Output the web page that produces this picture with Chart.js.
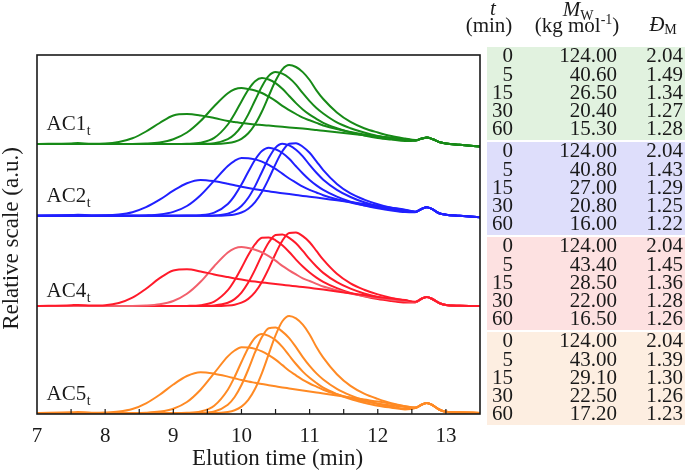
<!DOCTYPE html>
<html><head><meta charset="utf-8">
<script src="https://cdn.jsdelivr.net/npm/chart.js@4.4.0/dist/chart.umd.min.js"></script>
<style>
html,body{margin:0;padding:0;background:#fff;}
#wrap{position:relative;width:685px;height:474px;overflow:hidden;font-family:"Liberation Serif","Times New Roman",Tinos,"DejaVu Serif",serif;color:#1a1a1a;}
#chart{position:absolute;left:0;top:0;}
.blk{position:absolute;left:487px;width:198px;height:93px;}
.tx{position:absolute;white-space:nowrap;}
.sub{font-size:14px;position:relative;}
</style></head><body>
<div id="wrap"><canvas id="chart" width="685" height="474"></canvas><div id="tbl"></div></div>
<script>
// ---------- data ----------
const elutionTime = [7.0,7.5,7.6,7.8,8.0,8.2,8.4,8.6,8.8,9.0,9.2,9.4,9.6,9.8,9.9,10.0,10.1,10.2,10.3,10.4,10.5,10.6,10.7,10.8,10.9,11.0,11.1,11.2,11.4,11.6,11.8,12.0,12.2,12.4,12.55,12.65,12.72,12.8,12.9,13.0,13.2,13.5];
const sampleNames = ['AC1','AC2','AC4','AC5'];
const timeMin = [0,5,15,30,60];

// AC1 traces (relative signal, a.u.)
const ac1_t0  = [0,0.6,0.9,0.3,0.5,2,5.7,12.5,21,28.5,29.9,28.5,26,23,22,21,20.2,19.5,19,18.4,17.8,17.2,16.6,16,15.4,14.8,14,13.3,11.8,10.3,8.8,7.4,6,4.8,3.5,5.5,6.5,5,2,0.5,-0.8,-2.5];
const ac1_t5  = [0,0,0,0,0,0,0,0.4,1.6,4.8,11.5,23,37.7,50.7,54.7,56,55,53.5,51,47.3,43.1,38.1,33.9,30,26.3,23.7,21.1,18.5,15,11.9,9.5,7.7,6,4.8,3.5,5.5,6.5,5,2,0.5,-0.8,-2.5];
const ac1_t15 = [0,0,0,0,0,0,0,0,0,0,0.2,1.3,6.1,19.5,30.2,42.6,54.3,62.8,66,64.5,60.9,55.2,48,40.9,34.6,29.4,25.1,21.1,15.8,11.6,8.6,6.1,4.4,3,3.5,5.5,6.5,5,2,0.5,-0.8,-2.5];
const ac1_t30 = [0,0,0,0,0,0,0,0,0,0,0,0.1,0.8,4.8,9.7,17.9,29.6,43.7,57.6,68.1,72,70.3,66,59.4,50.8,42.9,36,30.5,21.6,15.8,11.5,8.1,5.9,3.9,3.5,5.5,6.5,5,2,0.5,-0.8,-2.5];
const ac1_t60 = [0,0,0,0,0,0,0,0,0,0,0,0,0,0.9,2.3,5.2,10.7,19.7,32.5,48,63.2,74.7,79,77,71.9,64,53.7,45,31.6,22.1,15.8,11.5,7.9,5.5,4,5.5,6.5,5,2,0.5,-0.8,-2.5];
// AC2 traces
const ac2_t0  = [0,0.6,0.9,0.3,0.4,1.2,3.5,8.5,16,25,32.5,35.8,34.5,32,30.5,29,27.7,26.5,25.4,24.4,23.4,22.5,21.6,20.7,19.8,19,18.1,17.2,15.4,13.6,11.8,10,8,6,4.2,7,8.5,6.5,2.5,1,0,-1.5];
const ac2_t5  = [0,0,0,0,0,0,0,0.3,1.2,3.8,9.7,20.5,35.1,49.7,54.9,57.7,57.5,56.3,54.1,50.9,46.9,42.1,37.2,33.1,29.1,25.9,23.2,20.5,16.4,13.2,10.4,8.4,6.7,5.2,3.8,7,8.5,6.5,2.5,1,0,-1.5];
const ac2_t15 = [0,0,0,0,0,0,0,0,0,0,0.1,0.5,3,11.7,20.1,31.1,43.9,56,64.7,68,66.4,62.7,56.9,49.4,42.2,35.7,30.3,25.8,19,13.9,10.2,7.5,5.3,3.7,3.5,7,8.5,6.5,2.5,1,0,-1.5];
const ac2_t30 = [0,0,0,0,0,0,0,0,0,0,0,0,0.3,2.1,4.8,9.7,17.9,29.6,43.7,57.6,68.1,72,70.3,66,59.4,50.8,42.9,36,25.9,18.7,13.4,9.7,6.8,4.9,3.6,7,8.5,6.5,2.5,1,0,-1.5];
const ac2_t60 = [0,0,0,0,0,0,0,0,0,0,0,0,0,0.5,1.3,3.2,7,13.6,23.7,36.9,51.6,64.4,72,72.5,69,62.9,54.4,45.6,31.8,22.3,16.1,11.5,8,5.6,3.8,7,8.5,6.5,2.5,1,0,-1.5];
// AC4 traces
const ac4_t0  = [0,0.7,1.1,0.4,0.8,3,8.3,17.3,27.8,35.5,36.8,34.6,31.6,28.9,27.6,26.4,25.3,24.4,23.6,22.8,22,21.2,20.5,19.7,19,18.2,17.3,16.4,14.5,12.7,10.9,9.1,7.4,5.9,4.2,7.5,9,7,3,1,0.3,0];
const ac4_t5  = [0,0,0,0,0,0,0,0.4,1.7,5,12.2,24.2,39.8,53.5,57.6,59,58,56.3,53.7,49.9,45.4,40.1,35.7,31.6,27.7,25,22.2,19.5,15.8,12.5,10,8.1,6.3,5,3.8,7.5,9,7,3,1,0.3,0];
const ac4_t15 = [0,0,0,0,0,0,0,0,0,0,0.1,0.8,4.4,15.8,25.7,38,50.9,61.8,68.2,68.6,65.7,60.7,54,46.4,39.5,33.5,28.4,24.2,17.9,13.1,9.7,6.9,5,3.5,3.8,7.5,9,7,3,1,0.3,0];
const ac4_t30 = [0,0,0,0,0,0,0,0,0,0,0,0,0.5,3.2,6.9,13.4,23.4,36.4,50.9,63.5,71,71.5,68.2,62.7,55.1,46.8,39.5,33.1,23.8,17.3,12.5,8.9,6.3,4.4,3.8,7.5,9,7,3,1,0.3,0];
const ac4_t60 = [0,0,0,0,0,0,0,0,0,0,0,0,0,0.5,1.3,3.3,7.1,13.8,24,37.4,52.3,65.3,73,73.5,69.9,63.8,55.1,46.3,32.2,22.6,16.3,11.6,8.1,5.7,4,7.5,9,7,3,1,0.3,0];
// AC5 traces
const ac5_t0  = [0,0.7,1,0.3,0.5,1.4,4,9.7,18.2,28.5,37,40.8,39.3,36.4,34.7,33,31.5,30.2,28.9,27.8,26.7,25.6,24.6,23.6,22.6,21.6,20.6,19.6,17.5,15.5,13.4,11.4,9.1,6.8,5.5,8.5,10,8,3.5,1.2,0.5,0];
const ac5_t5  = [0,0,0,0,0,0,0,0.3,1.4,4.3,11,23.3,39.9,56.6,62.5,65.7,65.4,64.1,61.6,57.9,53.4,47.9,42.3,37.7,33.1,29.5,26.4,23.3,18.7,15,11.8,9.6,7.6,5.9,5.2,8.5,10,8,3.5,1.2,0.5,0];
const ac5_t15 = [0,0,0,0,0,0,0,0,0,0,0.2,1.5,7.3,23.3,36.1,51,65,75.2,79,77.2,72.9,66.1,57.5,49,41.4,35.2,30,25.3,18.9,13.9,10.3,7.3,5.3,3.6,5,8.5,10,8,3.5,1.2,0.5,0];
const ac5_t30 = [0,0,0,0,0,0,0,0,0,0,0,0.2,1.5,8.3,16,28,43.5,60.8,75.9,84.8,85.4,81.4,74.9,65.8,55.9,47.1,39.6,33.5,24.1,17.6,12.7,8.9,6.4,4.3,5,8.5,10,8,3.5,1.2,0.5,0];
const ac5_t60 = [0,0,0,0,0,0,0,0,0,0,0,0,0,1.1,2.8,6.4,13.1,24.2,39.9,58.9,77.6,91.7,97,94.6,88.3,78.6,66,55.3,38.8,27.1,19.4,14.1,9.7,6.8,5.5,8.5,10,8,3.5,1.2,0.5,0];

// vertical stacking offset of each sample's traces (a.u.)
const traceOffset = [270, 198.3, 108, 1];

// table values
const mwAC1 = [124.00,40.60,26.50,20.40,15.30];  const dispAC1 = [2.04,1.49,1.34,1.27,1.28];
const mwAC2 = [124.00,40.80,27.00,20.80,16.00];  const dispAC2 = [2.04,1.43,1.29,1.25,1.22];
const mwAC4 = [124.00,43.40,28.50,22.00,16.50];  const dispAC4 = [2.04,1.45,1.36,1.28,1.26];
const mwAC5 = [124.00,43.00,29.10,22.50,17.20];  const dispAC5 = [2.04,1.39,1.30,1.26,1.23];

// ---------- styles ----------
const FONT = '"Liberation Serif", "Times New Roman", Tinos, "DejaVu Serif", serif';
const TXT = '#1a1a1a';
const lineColors = ['#178a17', '#2020ff', '#ff1a2a', '#ff8a24'];
const lineColorOverrides = {'2-1': '#f2606c'};
const blockColors = ['#e1f2df', '#dedefb', '#fde1e1', '#fdeee1'];

const traces = [
  [ac1_t0, ac1_t5, ac1_t15, ac1_t30, ac1_t60],
  [ac2_t0, ac2_t5, ac2_t15, ac2_t30, ac2_t60],
  [ac4_t0, ac4_t5, ac4_t15, ac4_t30, ac4_t60],
  [ac5_t0, ac5_t5, ac5_t15, ac5_t30, ac5_t60]
];

const datasets = [];
traces.forEach((grp, g) => {
  grp.forEach((vals, i) => {
    datasets.push({
      label: sampleNames[g] + ' t=' + timeMin[i],
      data: elutionTime.map((t, j) => ({x: t, y: vals[j] + traceOffset[g]})),
      borderColor: lineColorOverrides[g + '-' + i] || lineColors[g],
      borderWidth: 2,
      pointRadius: 0,
      fill: false,
      cubicInterpolationMode: 'monotone'
    });
  });
});

const labelLift = [14, 14, 9.5, 13];

const decor = {
  id: 'decor',
  afterDatasetsDraw(chart) {
    const {ctx, chartArea: a, scales: {x, y}} = chart;
    ctx.save();
    ctx.strokeStyle = '#1a1a1a';
    ctx.lineWidth = 1.2;
    x.ticks.forEach(tk => {
      const px = x.getPixelForValue(tk.value);
      if (px <= a.left + 1 || px >= a.right - 1) return;
      ctx.beginPath(); ctx.moveTo(px, a.bottom); ctx.lineTo(px, a.bottom - 5); ctx.stroke();
    });
    ctx.lineWidth = 1.6;
    ctx.strokeRect(a.left, a.top, a.right - a.left, a.bottom - a.top);
    ctx.fillStyle = TXT;
    ctx.textBaseline = 'alphabetic';
    ctx.textAlign = 'left';
    sampleNames.forEach((nm, g) => {
      const px = x.getPixelForValue(7.14);
      const py = y.getPixelForValue(traceOffset[g] + labelLift[g]);
      ctx.font = '21px ' + FONT;
      ctx.fillText(nm, px, py);
      const w = ctx.measureText(nm).width;
      ctx.font = '14px ' + FONT;
      ctx.fillText('t', px + w + 0.5, py + 5);
    });
    // axis titles
    ctx.font = '23px ' + FONT;
    ctx.textAlign = 'center';
    ctx.fillText('Elution time (min)', x.getPixelForValue(10.53), 465);
    ctx.translate(18, (a.top + a.bottom) / 2 + 4);
    ctx.rotate(-Math.PI / 2);
    ctx.fillText('Relative scale (a.u.)', 0, 0);
    ctx.restore();
  }
};

new Chart(document.getElementById('chart'), {
  type: 'line',
  data: {datasets},
  plugins: [decor],
  options: {
    responsive: false,
    animation: false,
    devicePixelRatio: 1,
    layout: {padding: {left: 37, right: 205, top: 55, bottom: 0}},
    plugins: {legend: {display: false}, tooltip: {enabled: false}},
    scales: {
      x: {
        type: 'linear', min: 7, max: 13.5,
        grid: {display: false}, border: {display: false},
        afterFit: s => { s.height = 60; },
        ticks: {
          stepSize: 0.5, autoSkip: false, maxRotation: 0, padding: 2,
          color: TXT, font: {family: FONT, size: 21},
          callback: v => Number.isInteger(v) ? String(v) : ''
        }
      },
      y: {type: 'linear', min: 0, max: 359, display: false}
    }
  }
});

// ---------- table (HTML text) ----------
const tbl = document.getElementById('tbl');
function put(html, size, baseline, opts) {
  const d = document.createElement('div');
  d.className = 'tx';
  d.innerHTML = html;
  d.style.fontSize = size + 'px';
  d.style.lineHeight = size + 'px';
  d.style.top = (baseline - 0.8375 * size) + 'px';
  if (opts.right !== undefined) { d.style.right = (685 - opts.right) + 'px'; d.style.textAlign = 'right'; }
  else { d.style.left = (opts.center - 100) + 'px'; d.style.width = '200px'; d.style.textAlign = 'center'; }
  tbl.appendChild(d);
}
// header
put('<i>t</i>', 21, 16, {center: 493});
put('(min)', 21, 33, {center: 489});
put('<i>M</i><span class="sub" style="top:4px">W</span>', 21, 17, {center: 578});
put('(kg mol<span class="sub" style="top:-8px">-1</span>)', 21, 33, {center: 577});
put('<i>Đ</i><span class="sub" style="top:3px">M</span>', 21, 32, {center: 663});

const blockTop = [47, 142, 237, 332];
const mwCols = [mwAC1, mwAC2, mwAC4, mwAC5];
const dispCols = [dispAC1, dispAC2, dispAC4, dispAC5];
blockTop.forEach((top, g) => {
  const b = document.createElement('div');
  b.className = 'blk';
  b.style.top = top + 'px';
  b.style.background = blockColors[g];
  tbl.appendChild(b);
  timeMin.forEach((t, i) => {
    const bl = top + 16 + i * 18.1;
    put(String(t), 21, bl, {right: 513});
    put(mwCols[g][i].toFixed(2), 21, bl, {right: 617});
    put(dispCols[g][i].toFixed(2), 21, bl, {right: 683});
  });
});
</script></body></html>
